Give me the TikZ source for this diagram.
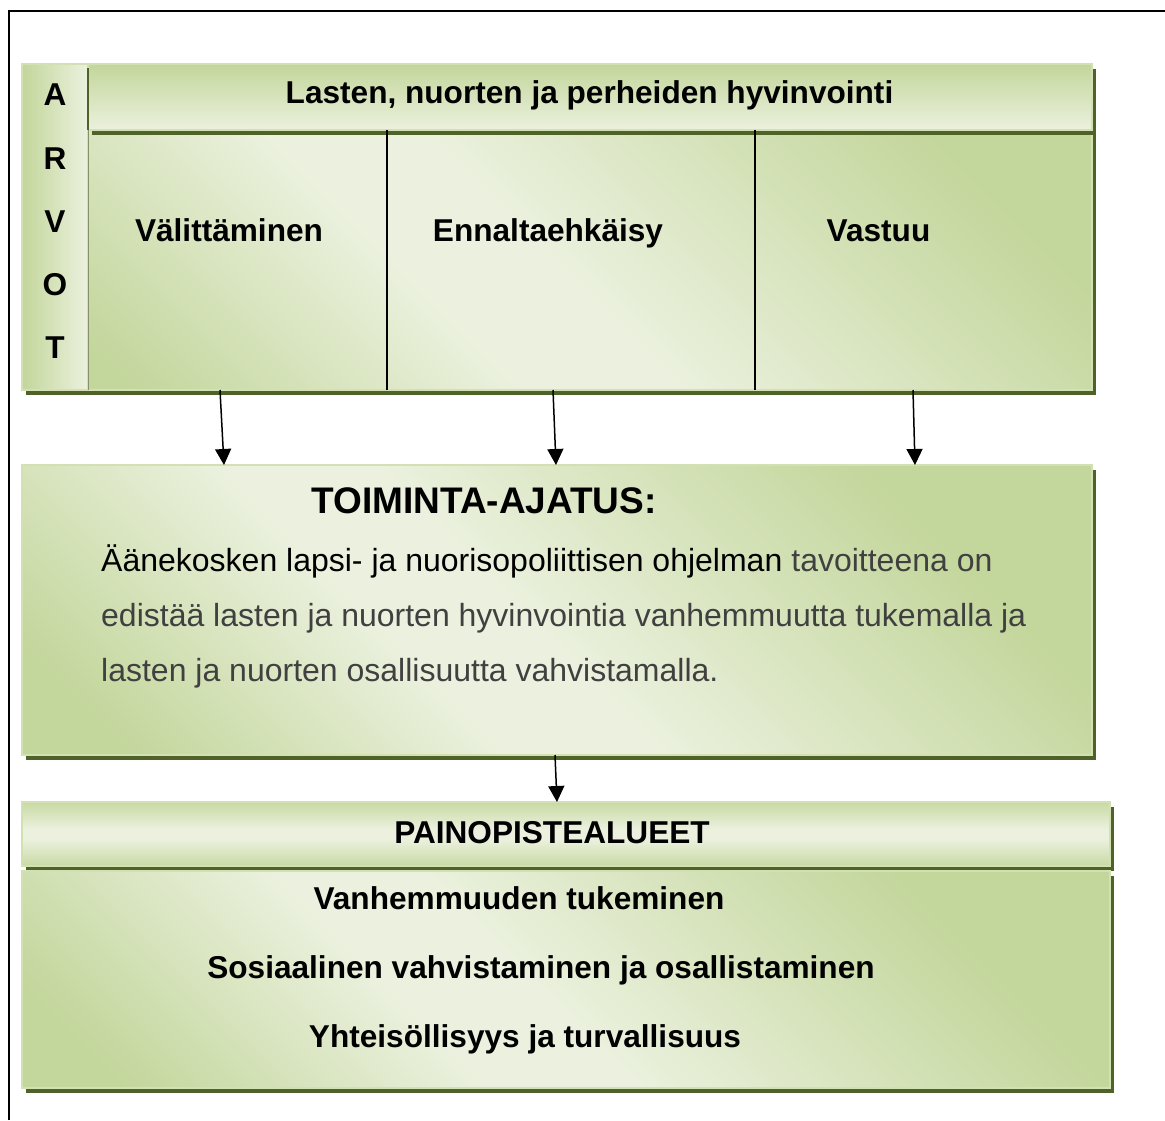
\documentclass[tikz,border=0pt]{standalone}
\usepackage{fontspec}
\setmainfont{Liberation Sans}
\usetikzlibrary{positioning,shadows,arrows.meta}
\definecolor{olivedark}{HTML}{4F6228}
\definecolor{olivemid}{HTML}{C3D69B}
\definecolor{olivepale}{HTML}{EBF1DE}
\definecolor{textgray}{HTML}{404040}
\pgfdeclarehorizontalshading{olivemirror}{100bp}{color(0bp)=(olivemid); color(22bp)=(olivemid); color(46bp)=(olivepale); color(54bp)=(olivepale); color(78bp)=(olivemid); color(100bp)=(olivemid)}
\pgfdeclarehorizontalshading{olivediag}{100bp}{color(0bp)=(olivemid); color(20bp)=(olivemid); color(40bp)=(olivepale); color(48bp)=(olivepale); color(74bp)=(olivemid); color(100bp)=(olivemid)}
\tikzstyle{line} = [draw, line width=1.5pt, -{Triangle[width=16pt,length=16pt]}]
\tikzstyle{greenbox} = [rectangle, inner sep=0pt, outer sep=0pt, draw=olivemid!75!white, line width=1.5pt]
\tikzstyle{shadowed} = [drop shadow={shadow xshift=3.5pt, shadow yshift=-5pt, fill=olivedark, opacity=1}]
\tikzstyle{cell} = [rectangle, inner sep=0pt, outer sep=0pt, minimum height=260]
\tikzstyle{divider} = [draw, line width=1.5pt]
\tikzstyle{bold} = [inner sep=0pt, font=\fontsize{31.6}{38}\selectfont\bfseries]
\tikzstyle{bigbold} = [inner sep=0pt, font=\fontsize{37}{44}\selectfont\bfseries]
\tikzstyle{bodytext} = [inner sep=0pt, align=left, text=textgray, font=\fontsize{32}{55}\selectfont]

\begin{document}
\begin{tikzpicture}[x=1pt, y=-1pt]
    \useasboundingbox (0,0) rectangle (1165,1120);
    \draw[line width=2.5pt] (9,1120) |- (1165,11);

    \node[greenbox, shadowed, shading=olivediag, shading angle=45, minimum width=1070, minimum height=326] (table) at (557,227) {};
    \node[greenbox, shadowed, top color=olivemid, bottom color=olivepale, minimum width=1004, minimum height=66, anchor=north east] (head) at (table.north east) {};
    \node[greenbox, left color=olivemid, right color=olivepale, minimum width=66, minimum height=326, anchor=north west] (arvot) at (table.north west) {};
    \draw[olivedark, line width=2pt] ([yshift=-4pt]head.north west) -- (head.south west);

    \node[cell, minimum width=299, anchor=north west] (col1) at (head.south west) {};
    \node[cell, minimum width=368, right=0pt of col1] (col2) {};
    \node[cell, minimum width=337, right=0pt of col2] (col3) {};
    \draw[olivedark!70, line width=0.8pt] (col1.north west) -- (col1.south west);
    \path[divider] (col1.north east) -- (col1.south east);
    \path[divider] (col2.north east) -- (col2.south east);

    \node[bold] (lasten) at (589.5,95) {Lasten, nuorten ja perheiden hyvinvointi};
    \node[inner sep=0pt, align=center, font=\fontsize{31.6}{63.25}\selectfont\bfseries] (arvotxt) at (55,221.5) {A\\R\\V\\O\\T};
    \node[bold, anchor=base] (valit) at (229,241) {Välittäminen};
    \node[bold, anchor=base] (ennalta) at (548,241) {Ennaltaehkäisy};
    \node[bold, anchor=base] (vastuu) at (878.5,241) {Vastuu};

    \node[greenbox, shadowed, shading=olivediag, shading angle=45, minimum width=1070, minimum height=290] (toim) at (557,610) {};
    \node[bigbold, anchor=base] (toimotsikko) at (484,513) {TOIMINTA-AJATUS:};
    \node[bodytext, anchor=base west] (ajatus) at (101,681) {{\color{black}Äänekosken lapsi- ja nuorisopoliittisen ohjelman} tavoitteena on\\edistää lasten ja nuorten hyvinvointia vanhemmuutta tukemalla ja\\lasten ja nuorten osallisuutta vahvistamalla.};

    \node[greenbox, shadowed, shading=olivemirror, shading angle=90, minimum width=1088, minimum height=64] (paino) at (566,834) {};
    \node[greenbox, shadowed, shading=olivediag, shading angle=45, minimum width=1088, minimum height=217, anchor=north] (pbody) at ([yshift=-5pt]paino.south) {};
    \node[bold, anchor=base] (painotxt) at (552,843) {PAINOPISTEALUEET};
    \node[bold, anchor=base] (vanh) at (519,909) {Vanhemmuuden tukeminen};
    \node[bold, anchor=base] (sos) at (541,978) {Sosiaalinen vahvistaminen ja osallistaminen};
    \node[bold, anchor=base] (yht) at (525,1047) {Yhteisöllisyys ja turvallisuus};

    \path[line] ([xshift=-17.5pt]col1.south) -- ([xshift=-333pt]toim.north);
    \path[line] ([xshift=-18pt]col2.south) -- ([xshift=-1pt]toim.north);
    \path[line] ([xshift=-10.5pt]col3.south) -- ([xshift=358pt]toim.north);
    \path[line] ([xshift=-2pt]toim.south) -- ([xshift=-9pt]paino.north);
\end{tikzpicture}
\end{document}
